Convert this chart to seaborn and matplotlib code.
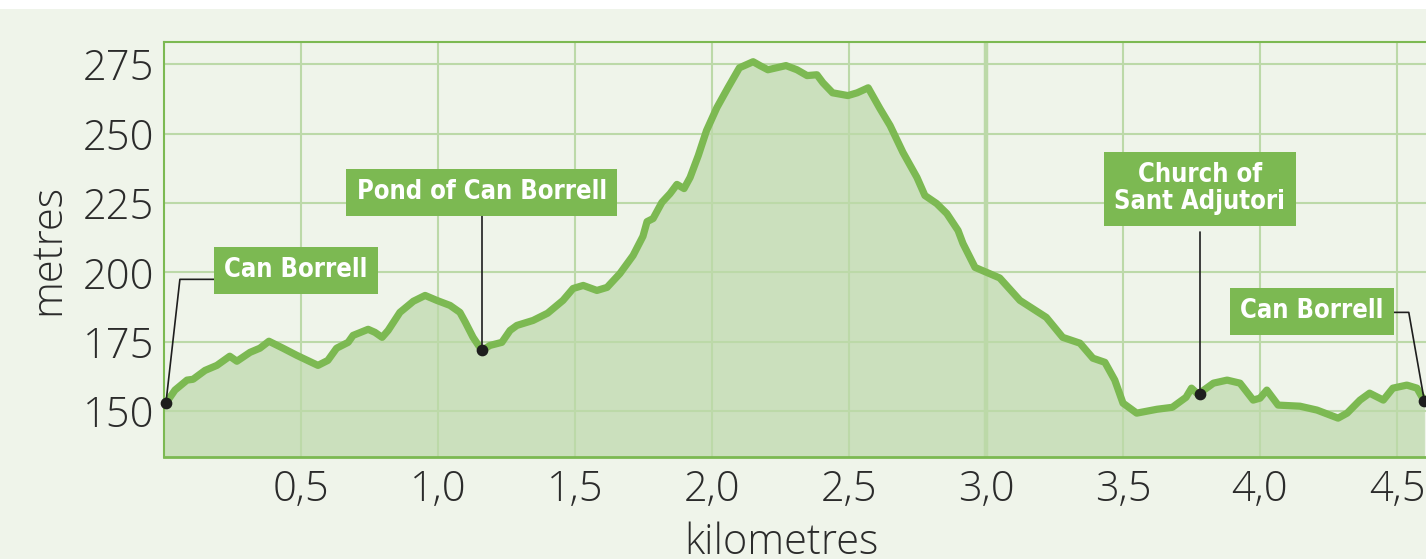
import matplotlib
matplotlib.use("Agg")
import matplotlib.pyplot as plt
from matplotlib import font_manager as fm
import pandas as pd
import seaborn as sns

# Elevation profile
km = [0.0, 0.007, 0.04, 0.084, 0.106, 0.15, 0.193, 0.24, 0.266, 0.314, 0.35, 0.383,
      0.434, 0.485, 0.562, 0.598, 0.63, 0.672, 0.69, 0.745, 0.77, 0.796, 0.818,
      0.861, 0.91, 0.953, 0.996, 1.044, 1.08, 1.10, 1.128, 1.16, 1.19, 1.233,
      1.263, 1.288, 1.347, 1.40, 1.456, 1.493, 1.53, 1.58, 1.617, 1.664, 1.712,
      1.748, 1.763, 1.785, 1.817, 1.847, 1.872, 1.898, 1.92, 1.95, 1.98, 2.018,
      2.058, 2.10, 2.15, 2.175, 2.204, 2.27, 2.31, 2.347, 2.383, 2.405, 2.44,
      2.496, 2.53, 2.57, 2.613, 2.65, 2.697, 2.748, 2.777, 2.82, 2.857, 2.898,
      2.916, 2.96, 3.05, 3.124, 3.22, 3.28, 3.343, 3.39, 3.434, 3.47, 3.50,
      3.55, 3.624, 3.68, 3.73, 3.75, 3.774, 3.83, 3.88, 3.927, 3.975, 4.0,
      4.025, 4.066, 4.146, 4.208, 4.285, 4.318, 4.365, 4.40, 4.45, 4.485,
      4.536, 4.573, 4.60]
elev = [152.5, 152.9, 157.6, 161.2, 161.5, 164.7, 166.5, 169.8, 168.0, 171.2, 172.7, 175.2,
        172.7, 170.1, 166.5, 168.3, 172.7, 174.8, 177.3, 179.5, 178.4, 176.6, 179.1,
        185.6, 189.6, 191.7, 189.9, 188.1, 185.6, 182.0, 176.6, 171.9, 173.7, 174.8,
        179.1, 180.9, 182.7, 185.3, 189.9, 194.2, 195.3, 193.5, 194.6, 199.6, 206.1,
        213.0, 218.3, 219.4, 225.2, 228.4, 231.7, 230.2, 234.2, 242.1, 251.1, 259.4,
        266.5, 273.7, 275.9, 274.5, 273.0, 274.5, 273.0, 270.9, 271.2, 268.3, 264.7,
        263.7, 264.7, 266.5, 259.0, 252.9, 243.2, 234.2, 227.7, 224.8, 221.2, 215.1,
        210.4, 201.8, 198.0, 189.9, 183.8, 176.6, 174.5, 169.1, 167.6, 161.2, 152.9,
        149.3, 150.7, 151.4, 155.0, 158.3, 156.1, 160.1, 161.2, 160.1, 154.0, 154.7,
        157.6, 152.2, 151.8, 150.4, 147.5, 149.3, 154.0, 156.5, 154.0, 158.3,
        159.4, 158.3, 153.6]

y_ticks = [150, 175, 200, 225, 250, 275]
x_ticks = [0.5, 1.0, 1.5, 2.0, 2.5, 3.0, 3.5, 4.0, 4.5]
x_tick_labels = ["0,5", "1,0", "1,5", "2,0", "2,5", "3,0", "3,5", "4,0", "4,5"]

# Places along the route: label, km, elevation
place_names = ["Can Borrell", "Pond of Can Borrell", "Church of\nSant Adjutori", "Can Borrell"]
place_km = [0.007, 1.16, 3.78, 4.60]
place_elev = [152.9, 171.9, 156.1, 153.6]

df = pd.DataFrame({"km": km, "elev": elev})

GREEN = "#7cb952"
FILL = "#cbe0bd"
GRID = "#bcd9a8"
BG = "#eff4ea"
TXT = "#2b2b2b"

sns.set_style("white")
plt.rcParams["font.family"] = ["Open Sans", "DejaVu Sans"]

# a condensed sans face for the place labels, if one is installed
label_font = {"family": ["DejaVu Sans"]}
for f in fm.fontManager.ttflist:
    if "Mono" in f.name:
        continue
    if "Narrow" in f.name or f.stretch == "condensed" or "Condensed" in f.fname:
        label_font = {"family": [f.name], "fontstretch": "condensed"}
        break

W, H = 1426, 559
fig = plt.figure(figsize=(W / 100, H / 100), dpi=100, facecolor="white")
fig.patches.append(plt.Rectangle((0, 0), 1, 1 - 9 / H, transform=fig.transFigure,
                                 facecolor=BG, edgecolor="none", zorder=-10))
ax = fig.add_axes([164 / W, 1 - 457 / H, 1 - 164 / W, (457 - 42) / H])
ax.set_facecolor(BG)

ax.fill_between(df["km"], df["elev"], 120, color=FILL, lw=0, zorder=1)
for xv in x_ticks:
    ax.axvline(xv, color=GRID, lw=1.5 if xv != 3.0 else 3.2, zorder=1.5)
for yv in y_ticks:
    ax.axhline(yv, color=GRID, lw=1.5, zorder=1.5)
sns.lineplot(data=df, x="km", y="elev", ax=ax, color=GREEN, lw=5.2,
             zorder=3, sort=False, solid_capstyle="round", solid_joinstyle="round")

ax.set_xlim(0, (W - 164) / 274)
ax.set_ylim(133.5, 283)
ax.set_xticks(x_ticks)
ax.set_xticklabels(x_tick_labels)
ax.set_yticks(y_ticks)
ax.tick_params(axis="both", length=0, labelsize=30, colors=TXT)
ax.tick_params(axis="y", pad=7)
ax.tick_params(axis="x", pad=8)
for lab in ax.get_xticklabels() + ax.get_yticklabels():
    lab.set_fontweight("light")

ax.set_xlabel("kilometres", fontsize=30, color=TXT, fontweight="light")
ax.xaxis.set_label_coords(0.489, -0.155)
ax.set_ylabel("metres", fontsize=30, color=TXT, fontweight="light", labelpad=10)

for side in ["left", "top", "bottom"]:
    ax.spines[side].set_color(GREEN)
    ax.spines[side].set_linewidth(1.5)
ax.spines["bottom"].set_linewidth(2)
ax.spines["right"].set_visible(False)

# connectors and dots
conn = dict(color="#1e1e1e", lw=1.2, zorder=4, clip_on=False)
ax.plot([place_km[0], 0.058, 0.193], [place_elev[0], 197.5, 197.5], **conn)
ax.plot([place_km[1], place_km[1]], [place_elev[1], 220.5], **conn)
ax.plot([place_km[2], place_km[2]], [place_elev[2], 214.5], **conn)
ax.plot([4.478, 4.543, place_km[3]], [185.6, 185.6, place_elev[3]], **conn)
ax.scatter(place_km, place_elev, s=55, color="#1e1e1e", zorder=5, clip_on=False)

# size the label font so "Can Borrell" is about 144 px wide, as in the picture
probe = ax.text(0, 0, "Can Borrell", fontsize=23, fontweight="bold", **label_font)
fig.canvas.draw()
probe_w = probe.get_window_extent().width
probe.remove()
label_size = min(25, 23 * 144 / probe_w)
pad = 10.5 / (label_size * 100 / 72)

box = dict(boxstyle=f"square,pad={pad:.3f}", facecolor=GREEN, edgecolor="none")
lab_kw = dict(color="white", fontsize=label_size, fontweight="bold",
              ha="center", va="center", bbox=box, zorder=6, linespacing=1.05, **label_font)
ax.text(0.482, 200.7, place_names[0], **lab_kw)
ax.text(1.16, 228.8, place_names[1], **lab_kw)
ax.text(3.78, 230.2, place_names[2], **lab_kw)
ax.text(4.19, 186.0, place_names[3], **lab_kw)

fig.savefig("out.png", dpi=100, facecolor=fig.get_facecolor())
